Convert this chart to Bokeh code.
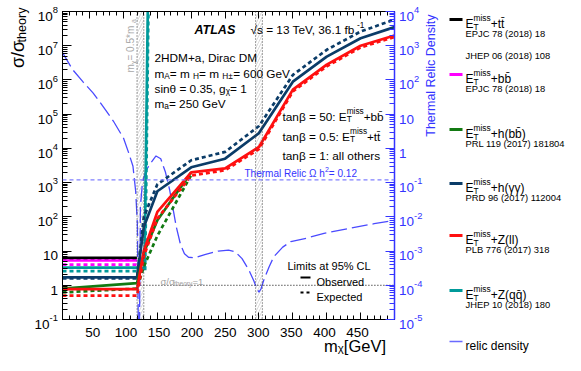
import math
import unicodedata
from bokeh.plotting import figure
from bokeh.models import (Range1d, LogScale, LogAxis, LinearAxis, FixedTicker, Label, Span,
                          CustomJSTickFormatter)
from bokeh.layouts import row, column
from bokeh.embed import file_html
from bokeh.resources import INLINE

# ---------------- data ----------------
X_MIN, X_MAX = 10, 500
Y_MIN, Y_MAX = 0.1, 1e8
RELIC_MIN, RELIC_MAX = 1e-5, 1e4
OMEGA_H2 = 0.12
UNITY = 1.0

X_TICKS = [50, 100, 150, 200, 250, 300, 350, 400, 450, 500]
X_TICK_LABELS = ["50", "100", "150", "200", "250", "300", "350", "400", "450", ""]
LEFT_TICKS = [0.1, 1, 10, 1e2, 1e3, 1e4, 1e5, 1e6, 1e7, 1e8]
LEFT_TICK_LABELS = [("10", "-1"), ("1", ""), ("10", ""), ("10", "2"), ("10", "3"),
                    ("10", "4"), ("10", "5"), ("10", "6"), ("10", "7"), ("10", "8")]
RIGHT_TICKS = [1e-5, 1e-4, 1e-3, 1e-2, 1e-1, 1, 10, 1e2, 1e3, 1e4]
RIGHT_TICK_LABELS = [("10", "-5"), ("10", "-4"), ("10", "-3"), ("10", "-2"), ("10", "-1"),
                     ("1", ""), ("10", ""), ("10", "2"), ("10", "3"), ("10", "4")]

BAND_CENTER = [125, 300]   # 0.5*m_a , 0.5*m_A
BAND_HALF = 5

# limits (sigma/sigma_theory)
m_ttbar = [10, 120]
ttbar_obs = [6.3, 6.3]
ttbar_exp = [6.0, 6.0]

m_bb = [10, 120]
bb_obs = [5.3, 5.3]
bb_exp = [4.0, 4.0]

m_zqq_obs = [10, 120, 131, 136.5]
zqq_obs = [3.3, 3.3, 3.2, 1e9]
m_zqq_exp = [10, 120, 132, 137.5]
zqq_exp = [2.6, 2.6, 2.5, 1e9]

m_hbb = [10, 120, 130, 150, 200]
hbb_obs = [0.8, 1.15, 8.9, 79, 2000]
hbb_exp = [0.62, 0.8, 3.5, 28, 1660]

m_scan = [10, 120, 130, 150, 200, 250, 300, 350, 400, 450, 500]
hgg_obs = [1.7, 1.7, 50, 560, 2800, 5000, 2.8e4, 8.9e5, 4.8e6, 1.66e7, 3.5e7]
hgg_exp = [1.6, 1.6, 100, 890, 4500, 7900, 4.5e4, 1.4e6, 7.6e6, 2.6e7, 5.8e7]
zll_obs = [0.77, 0.77, 10, 140, 2000, 2600, 1.1e4, 5.2e5, 2.8e6, 1.0e7, 2.0e7]
zll_exp = [0.5, 0.5, 7, 89, 1600, 2300, 9500, 4.6e5, 2.5e6, 8.9e6, 1.8e7]

# thermal relic density (right axis)
relic_m = [10, 25, 40, 55, 70, 85, 100, 108, 114, 118, 120.5, 122, 123.5, 125, 128, 133,
           140, 148, 155, 162, 168, 173, 178, 184, 190, 196, 205, 220, 240, 255, 265, 275,
           285, 292, 297, 300, 303, 307, 315, 322, 335, 347, 371, 396, 436, 470, 500]
relic_val = [631, 200, 89, 42, 16.6, 6.3, 2.0, 0.71, 0.30, 0.056, 6.3e-3, 3.2e-6, 3.2e-6,
             0.020, 0.10, 0.22, 0.37, 0.60, 0.50, 0.20, 0.063, 0.018, 5.0e-3, 1.6e-3,
             8.3e-4, 6.6e-4, 6.3e-4, 7.9e-4, 1.0e-3, 1.07e-3, 9.5e-4, 6.0e-4, 2.8e-4,
             1.4e-4, 7.9e-5, 6.3e-5, 7.9e-5, 1.4e-4, 3.5e-4, 6.9e-4, 1.3e-3, 1.9e-3,
             2.4e-3, 3.3e-3, 4.7e-3, 6.3e-3, 7.9e-3]

LEG_LABELS = ["+tt\u0304", "+bb\u0304", "+h(bb\u0304)", "+h(\u03b3\u03b3)", "+Z(ll)", "+Z(qq\u0304)"]
LEG_REFS = [["EPJC 78 (2018) 18", "JHEP 06 (2018) 108"], ["EPJC 78 (2018) 18"],
            ["PRL 119 (2017) 181804"], ["PRD 96 (2017) 112004"], ["PLB 776 (2017) 318"],
            ["JHEP 10 (2018) 180"]]

# ---------------- styles ----------------
FONT = "Liberation Sans"
C_BLACK = "#000000"
C_MAG = "#ff00ff"
C_GREEN = "#137a13"
C_NAVY = "#0b3c68"
C_RED = "#ff1010"
C_TEAL = "#009a9a"
C_RELIC = "#4a4aff"
C_AXBLUE = "#3434ff"
LW = 2.7
DASH = "4 3"

AW = {' ': 278, '!': 278, '%': 889, '(': 333, ')': 333, '*': 389, '+': 584, ',': 278,
      '-': 333, '.': 278, '/': 278, ':': 278, '=': 584, '[': 278, ']': 278,
      'A': 667, 'B': 667, 'C': 722, 'D': 722, 'E': 667, 'F': 611, 'G': 778, 'H': 722,
      'I': 278, 'J': 500, 'K': 667, 'L': 556, 'M': 833, 'N': 722, 'O': 778, 'P': 667,
      'Q': 778, 'R': 722, 'S': 667, 'T': 611, 'U': 722, 'V': 667, 'W': 944, 'X': 667,
      'Y': 667, 'Z': 611, 'a': 556, 'b': 556, 'c': 500, 'd': 556, 'e': 556, 'f': 278,
      'g': 556, 'h': 556, 'i': 222, 'j': 222, 'k': 500, 'l': 222, 'm': 833, 'n': 556,
      'o': 556, 'p': 556, 'q': 556, 'r': 333, 's': 500, 't': 278, 'u': 556, 'v': 500,
      'w': 722, 'x': 500, 'y': 500, 'z': 500, '\u03c3': 570, '\u03b8': 556,
      '\u03b2': 575, '\u03c7': 520, '\u03b3': 500, '\u03a9': 768, '\u00b1': 584,
      '\u221a': 549}
for _d in "0123456789":
    AW[_d] = 556


def tw(s, size):
    return sum(AW.get(ch, 556) for ch in s if not unicodedata.combining(ch)) * size / 1000.0


def rich(fig, x, y, segs, size, color="black", align="left", rot=False, style="normal",
         dx=0.0, dy=0.0, yr="default", sub_shift=0.25):
    s2 = size * 0.7
    items = []
    pos = 0.0
    for seg in segs:
        if isinstance(seg, str):
            items.append((seg, size, pos, 0.0))
            pos += tw(seg, size)
        elif seg[0] == "sub":
            items.append((seg[1], s2, pos, -sub_shift * size))
            pos += tw(seg[1], s2)
        elif seg[0] == "sup":
            items.append((seg[1], s2, pos, 0.45 * size))
            pos += tw(seg[1], s2)
        else:
            items.append((seg[1], s2, pos, -sub_shift * size))
            items.append((seg[2], s2, pos, 0.45 * size))
            pos += max(tw(seg[1], s2), tw(seg[2], s2))
    start = {"left": 0.0, "center": -pos / 2.0, "right": -pos}[align]
    for text, fs, a, sh in items:
        if not text:
            continue
        a += start
        xo, yo = ((-sh, a) if rot else (a, sh))
        fig.add_layout(Label(x=x, y=y, y_range_name=yr, x_offset=xo + dx, y_offset=yo + dy,
                             text=text, text_font=FONT, text_font_size=f"{fs:.1f}px",
                             text_font_style=style, text_color=color, text_align="left",
                             text_baseline="alphabetic",
                             angle=(math.pi / 2 if rot else 0.0)))


# page-pixel geometry of the plotting frame
FL, FR, FT, FB = 70, 402, 19, 327
PAGE_L, PAGE_R, PAGE_T, PAGE_B = 8, 573, 8, 363
LP_R = 66          # left panel right edge
RP_L = 406         # right panel left edge
BP_T = 329         # bottom panel top edge
LOG_T, LOG_B = math.log10(Y_MAX), math.log10(Y_MIN)
DEC_PX = (FB - FT) / (LOG_T - LOG_B)


def PX(px):
    return X_MIN + (px - FL) * (X_MAX - X_MIN) / (FR - FL)


def PY(py):
    return 10 ** (LOG_T - (py - FT) / DEC_PX)


def panel(w, h, xr, yr, ylog=False):
    f = figure(width=w, height=h, x_range=xr, y_range=yr, x_axis_type=None, y_axis_type=None,
               output_backend="svg", toolbar_location=None, min_border=0,
               outline_line_color=None)
    if ylog:
        f.y_scale = LogScale()
    f.background_fill_color = "white"
    f.border_fill_color = "white"
    return f


# ---------------- main figure ----------------
p = figure(width=RP_L - LP_R, height=BP_T - PAGE_T, x_range=Range1d(X_MIN, X_MAX),
           y_range=Range1d(Y_MIN, Y_MAX), y_axis_type="log",
           output_backend="svg", toolbar_location=None,
           min_border_left=FL - LP_R, min_border_right=RP_L - FR,
           min_border_top=FT - PAGE_T, min_border_bottom=BP_T - FB)
p.extra_y_ranges = {"relic": Range1d(RELIC_MIN, RELIC_MAX)}
p.extra_y_scales = {"relic": LogScale()}
p.xgrid.visible = False
p.ygrid.visible = False
p.outline_line_color = "black"
p.outline_line_width = 1
p.background_fill_color = "white"
p.border_fill_color = "white"

BLANK = CustomJSTickFormatter(code="return ''")


def style_axis(ax, color, tin, tmin):
    ax.axis_line_color = color
    ax.major_tick_line_color = color
    ax.minor_tick_line_color = color
    ax.major_tick_in = tin
    ax.major_tick_out = 0
    ax.minor_tick_in = tmin
    ax.minor_tick_out = 0
    ax.formatter = BLANK
    ax.major_label_text_font_size = "1px"
    ax.major_label_text_color = None
    ax.major_label_standoff = 0


x_minor = list(range(X_MIN, X_MAX + 1, 10))
p.xaxis[0].ticker = FixedTicker(ticks=X_TICKS, minor_ticks=x_minor)
style_axis(p.xaxis[0], "black", 7, 4)
top = LinearAxis(ticker=FixedTicker(ticks=X_TICKS, minor_ticks=x_minor))
style_axis(top, "black", 7, 4)
p.add_layout(top, "above")

left_minor = [k * t for t in LEFT_TICKS[:-1] for k in range(2, 10)]
p.yaxis[0].ticker = FixedTicker(ticks=LEFT_TICKS, minor_ticks=left_minor)
style_axis(p.yaxis[0], "black", 9, 5)

right_minor = [k * t for t in RIGHT_TICKS[:-1] for k in range(2, 10)]
rax = LogAxis(y_range_name="relic", ticker=FixedTicker(ticks=RIGHT_TICKS, minor_ticks=right_minor))
style_axis(rax, C_AXBLUE, 9, 5)
rax.axis_line_width = 1.5
p.add_layout(rax, "right")

# hatched bands at m_chi = 0.5 * mediator mass
band_lo = [c - BAND_HALF for c in BAND_CENTER]
band_hi = [c + BAND_HALF for c in BAND_CENTER]
p.quad(left=band_lo, right=band_hi, bottom=Y_MIN, top=Y_MAX, fill_alpha=0, line_alpha=0,
       hatch_pattern="/", hatch_color="#cfcfcf", hatch_scale=6, hatch_weight=0.8)
for e in band_lo + band_hi:
    p.add_layout(Span(location=e, dimension="height", line_color="#444444",
                      line_dash="1 2", line_width=1))

# sigma/sigma_theory = 1 line
p.line([BAND_CENTER[0], X_MAX], [UNITY, UNITY], line_color="black", line_dash="1 2", line_width=1)

# thermal relic Omega h^2
p.add_layout(Span(location=OMEGA_H2, dimension="width", y_range_name="relic",
                  line_color="#8080ff", line_dash="4 3", line_width=1.3))

# relic density curve
p.line(relic_m, relic_val, y_range_name="relic", line_color=C_RELIC, line_width=1.3,
       line_dash="16 5")

# limit curves
p.line(m_ttbar, ttbar_exp, line_color=C_BLACK, line_width=LW, line_dash=DASH)
p.line(m_ttbar, ttbar_obs, line_color=C_BLACK, line_width=LW)
p.line(m_bb, bb_exp, line_color=C_MAG, line_width=LW, line_dash=DASH)
p.line(m_bb, bb_obs, line_color=C_MAG, line_width=LW)
p.line(m_zqq_exp, zqq_exp, line_color=C_TEAL, line_width=LW, line_dash=DASH)
p.line(m_zqq_obs, zqq_obs, line_color=C_TEAL, line_width=LW)
p.line(m_scan, hgg_exp, line_color=C_NAVY, line_width=LW, line_dash=DASH)
p.line(m_scan, hgg_obs, line_color=C_NAVY, line_width=LW)
p.line(m_hbb, hbb_exp, line_color=C_GREEN, line_width=LW, line_dash=DASH)
p.line(m_hbb, hbb_obs, line_color=C_GREEN, line_width=LW)
p.line(m_scan, zll_exp, line_color=C_RED, line_width=LW, line_dash=DASH)
p.line(m_scan, zll_obs, line_color=C_RED, line_width=LW)

# in-frame annotations
AS = 11.8
ET = ("subsup", "T", "miss")
rich(p, PX(202), PY(37.5), ["ATLAS"], 12.5, style="bold italic")
rich(p, PX(258), PY(37.5), ["\u221as = 13 TeV, 36.1 fb", ("sup", "-1")], AS)
rich(p, PX(162), PY(65), ["2HDM+a, Dirac DM"], AS)
rich(p, PX(162), PY(81), ["m", ("sub", "A"), " = m", ("sub", "H"), " = m", ("sub", "H\u00b1"),
                          " = 600 GeV"], AS)
rich(p, PX(162), PY(96), ["sin\u03b8 = 0.35, g", ("sub", "\u03c7"), " = 1"], AS)
rich(p, PX(162), PY(111), ["m", ("sub", "a"), " = 250 GeV"], AS)
rich(p, PX(290), PY(124), ["tan\u03b2 = 50: E", ET, "+bb\u0304"], AS)
rich(p, PX(290), PY(144), ["tan\u03b2 = 0.5: E", ET, "+tt\u0304"], AS)
rich(p, PX(290), PY(163), ["tan\u03b2 = 1: all others"], AS)
rich(p, PX(252), PY(181), ["Thermal Relic \u03a9 h", ("sup", "2"), " = 0.12"], 10, color=C_AXBLUE)
rich(p, PX(295), PY(273), ["Limits at 95% CL"], 11)
rich(p, PX(324), PY(289), ["Observed"], 11)
rich(p, PX(324), PY(304), ["Expected"], 11)
p.line([PX(308), PX(318)], [PY(285), PY(285)], line_color="black", line_width=2)
p.line([PX(308), PX(319)], [PY(300), PY(300)], line_color="black", line_width=2, line_dash="3 3")
rich(p, PX(168), PY(289), ["\u03c3/\u03c3", ("sub", "theory"), "=1"], 9.5, color="#a0a0a0")
rich(p, PX(138), PY(80), ["m", ("sub", "\u03c7"), " = 0.5*m", ("sub", "a")], 10,
     color="#a8a8a8", rot=True)

TS = 13.5

# ---------------- left panel: y tick labels + title ----------------
lp = panel(LP_R - PAGE_L, PAGE_B - PAGE_T, Range1d(PAGE_L, LP_R),
           Range1d(PY(PAGE_B), PY(PAGE_T)), ylog=True)
for t, (b, e) in zip(LEFT_TICKS, LEFT_TICK_LABELS):
    segs = [b] + ([("sup", e)] if e else [])
    rich(lp, LP_R, t, segs, TS, align="right", dx=-0.5, dy=-0.36 * TS)
rich(lp, 25, PY(15), ["\u03c3/\u03c3", ("sub", "theory")], 18, align="right", rot=True)

# ---------------- bottom panel: x tick labels + title ----------------
bp = panel(RP_L - LP_R, PAGE_B - BP_T, Range1d(PX(LP_R), PX(RP_L)), Range1d(PAGE_B, BP_T))
for t, lab in zip(X_TICKS, X_TICK_LABELS):
    if lab:
        rich(bp, t, 340, [lab], TS, align="center")
rich(bp, X_MAX, 353, ["m", ("sub", "\u03c7"), " [GeV]"], 16.5, align="right", sub_shift=0.18)

# ---------------- right panel: relic axis labels, title, legend ----------------
rp = panel(PAGE_R - RP_L, PAGE_B - PAGE_T, Range1d(RP_L, PAGE_R), Range1d(PAGE_B, PAGE_T))
rel_lt, rel_lb = math.log10(RELIC_MAX), math.log10(RELIC_MIN)
rp.extra_y_ranges = {"relic": Range1d(10 ** (rel_lb - (PAGE_B - FB) / DEC_PX),
                                      10 ** (rel_lt + (FT - PAGE_T) / DEC_PX))}
rp.extra_y_scales = {"relic": LogScale()}
for t, (b, e) in zip(RIGHT_TICKS, RIGHT_TICK_LABELS):
    segs = [b] + ([("sup", e)] if e else [])
    rich(rp, RP_L, t, segs, TS, color=C_AXBLUE, align="left", dx=0.5, dy=-0.36 * TS, yr="relic")
rich(rp, 438, 22, ["Thermal Relic Density"], 12.5, color=C_AXBLUE, align="right", rot=True)

leg_colors = [C_BLACK, C_MAG, C_GREEN, C_NAVY, C_RED, C_TEAL]
leg_y = [27, 82, 137, 191, 243, 298]
for col, lab, refs, yy in zip(leg_colors, LEG_LABELS, LEG_REFS, leg_y):
    rp.line([457, 470], [yy, yy], line_color=col, line_width=3)
    rich(rp, 473, yy, ["E", ET, lab], 12, dy=-4.3)
    for k, ref in enumerate(refs):
        rich(rp, 473, yy, [ref], 9.4, dy=-(13.5 + 22 * k))
rp.line([457, 470], [349, 349], line_color="#6a6aff", line_width=1.5)
rich(rp, 473, 349, ["relic density"], 12, dy=-4.3)

layout = row(lp, column(p, bp), rp)
open("out.html", "w").write(file_html(layout, INLINE))
